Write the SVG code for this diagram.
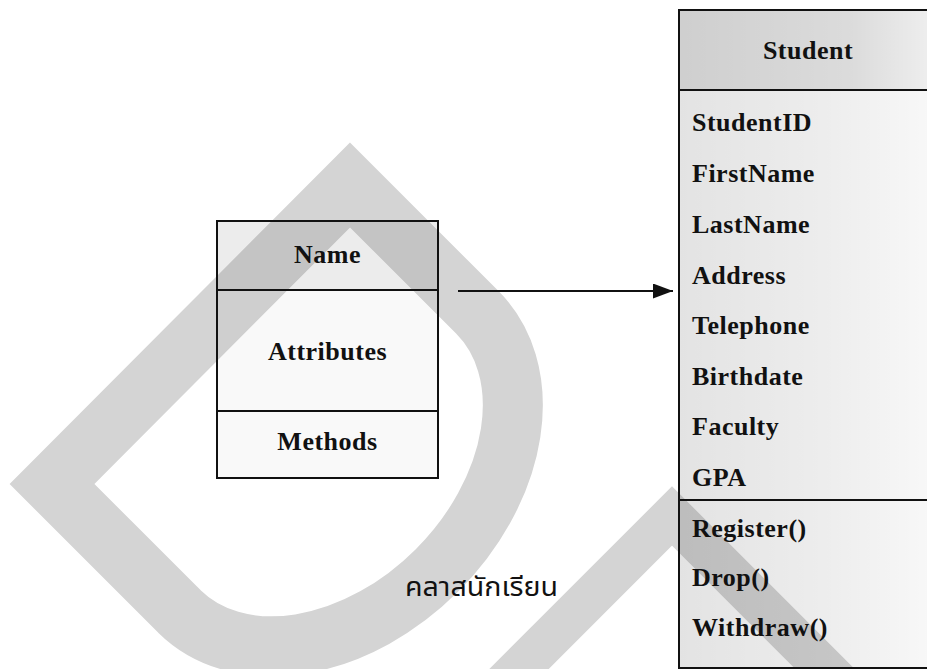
<svg xmlns="http://www.w3.org/2000/svg" width="927" height="669" viewBox="0 0 927 669">
  <style>
    .lbl { font-family: "Liberation Serif", "Times New Roman", serif; font-weight: bold; font-size: 26px; letter-spacing: 0.5px; fill: #111; }
    .mid { text-anchor: middle; }
    .frame { fill: none; stroke: #111; stroke-width: 2; }
    .sep { stroke: #111; stroke-width: 2; }
    .thai { font-family: "Noto Sans Thai", "Noto Sans", "DejaVu Sans", Tahoma, sans-serif; font-size: 26px; fill: #111; }
    .mark { fill: none; stroke: #d4d4d4; stroke-linejoin: miter; stroke-miterlimit: 10; }
    .tint { fill: #000; }
    .link { stroke: #111; stroke-width: 2; fill: none; }
  </style>
  <defs>
    <marker id="arrow" markerUnits="userSpaceOnUse" markerWidth="20" markerHeight="15" refX="20" refY="7.5" orient="auto">
      <path d="M0,0 L20,7.5 L0,15 Z" fill="#111"/>
    </marker>
    <linearGradient id="headShade" x1="679" y1="0" x2="927" y2="0" gradientUnits="userSpaceOnUse">
      <stop offset="0" stop-color="#000" stop-opacity="0.19"/>
      <stop offset="0.7" stop-color="#000" stop-opacity="0.14"/>
      <stop offset="1" stop-color="#000" stop-opacity="0.07"/>
    </linearGradient>
    <linearGradient id="bodyShade" x1="679" y1="0" x2="927" y2="0" gradientUnits="userSpaceOnUse">
      <stop offset="0" stop-color="#000" stop-opacity="0.11"/>
      <stop offset="0.6" stop-color="#000" stop-opacity="0.07"/>
      <stop offset="1" stop-color="#000" stop-opacity="0.03"/>
    </linearGradient>
  </defs>

  <rect width="927" height="669" fill="#fff"/>

  <!-- background emblem: a tilted D and a chevron -->
  <g id="emblem">
    <path class="mark" stroke-width="60" d="M179.3,611.3 L52,484 L350,185 L477.3,312.3 A154,211 45 0 1 437,570.4 A154,211 45 0 1 179.3,611.3 Z"/>
    <path class="mark" stroke-width="42" d="M462,726 L672,516 L882,726"/>
  </g>

  <!-- generic class template -->
  <g id="class-template">
    <rect class="tint" x="217" y="221" width="221" height="257" fill-opacity="0.025"/>
    <rect class="tint" x="217" y="221" width="221" height="69" fill-opacity="0.05"/>
    <rect class="frame" x="217" y="221" width="221" height="257"/>
    <line class="sep" x1="217" y1="290" x2="438" y2="290"/>
    <line class="sep" x1="217" y1="411" x2="438" y2="411"/>
    <text class="lbl mid" x="327.5" y="263">Name</text>
    <text class="lbl mid" x="327.5" y="360">Attributes</text>
    <text class="lbl mid" x="327.5" y="450">Methods</text>
  </g>

  <!-- Student class -->
  <g id="class-student">
    <rect x="679" y="10" width="262" height="80" fill="url(#headShade)"/>
    <rect x="679" y="90" width="262" height="578" fill="url(#bodyShade)"/>
    <rect class="frame" x="679" y="10" width="262" height="658"/>
    <line class="sep" x1="679" y1="90" x2="941" y2="90"/>
    <line class="sep" x1="679" y1="500" x2="941" y2="500"/>
    <text class="lbl mid" x="808" y="59">Student</text>
    <text class="lbl" x="692" y="131">StudentID</text>
    <text class="lbl" x="692" y="182">FirstName</text>
    <text class="lbl" x="692" y="233">LastName</text>
    <text class="lbl" x="692" y="284">Address</text>
    <text class="lbl" x="692" y="334">Telephone</text>
    <text class="lbl" x="692" y="385">Birthdate</text>
    <text class="lbl" x="692" y="435">Faculty</text>
    <text class="lbl" x="692" y="486">GPA</text>
    <text class="lbl" x="692" y="537">Register()</text>
    <text class="lbl" x="692" y="586">Drop()</text>
    <text class="lbl" x="692" y="636">Withdraw()</text>
  </g>

  <!-- caption -->
  <g id="caption">
    <text class="thai" x="405" y="596" textLength="153" lengthAdjust="spacingAndGlyphs">คลาสนักเรียน</text>
  </g>

  <g id="connectors">
    <line class="link" x1="458" y1="291" x2="673" y2="291" marker-end="url(#arrow)"/>
  </g>
</svg>
